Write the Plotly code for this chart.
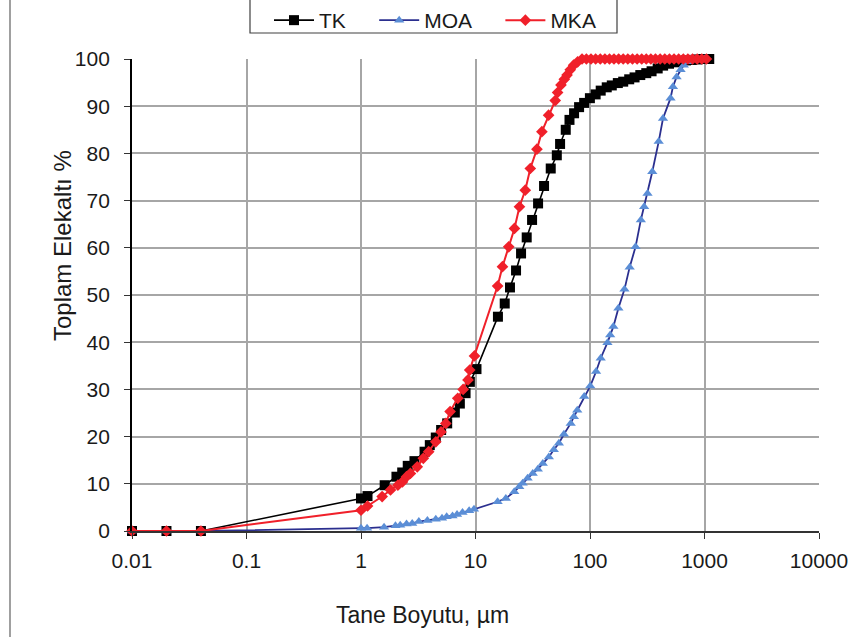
import plotly.graph_objects as go

# --- données ---
tk_x = [0.01, 0.02, 0.04, 1.0, 1.14, 1.61, 2.04, 2.29, 2.56, 2.93, 3.59, 3.99, 4.5, 5.01, 5.66,
        6.6, 7.3, 8.19, 8.93, 10.2, 15.7, 18.0, 20.0, 22.6, 25.0, 28.0, 31.2, 35.2, 39.7, 45.4,
        51.3, 54.8, 61.4, 66.2, 72.6, 80.3, 88.9, 99.8, 112, 124, 140, 155, 175, 195, 220, 245,
        275, 310, 345, 390, 435, 490, 550, 615, 690, 775, 870, 975, 1100]
tk_y = [0, 0, 0, 6.9, 7.4, 9.7, 11.5, 12.4, 13.8, 14.8, 16.8, 18.2, 19.8, 21.4, 22.8,
        25.1, 27.0, 29.2, 31.6, 34.3, 45.4, 48.2, 51.6, 55.2, 58.8, 62.2, 65.9, 69.4, 73.1, 76.8,
        79.6, 82.0, 85.0, 87.1, 88.5, 89.8, 90.7, 91.7, 92.5, 93.3, 94.0, 94.4, 94.9, 95.2, 95.7, 96.1,
        96.6, 97.0, 97.4, 98.0, 98.6, 99.0, 99.3, 99.5, 99.7, 99.8, 99.9, 100, 100]

moa_x = [0.01, 0.02, 0.04, 1.0, 1.13, 1.59, 2.0, 2.2, 2.5, 2.8, 3.2, 3.8, 4.5, 5.1, 5.6, 6.3,
         6.9, 7.7, 8.8, 9.7, 15.6, 18.4, 21.8, 24.1, 25.8, 28.5, 31.6, 35.0, 38.7, 43.7, 48.3,
         53.5, 59.2, 67.8, 72.3, 77.4, 89.0, 100.5, 113, 124, 142, 150, 160, 177, 200, 222, 250,
         278, 297, 318, 350, 398, 434, 505, 530, 570, 618, 660, 705, 760, 850, 1000]
moa_y = [0, 0, 0, 0.6, 0.6, 0.8, 1.1, 1.2, 1.5, 1.6, 2.0, 2.2, 2.5, 2.7, 3.0, 3.2,
         3.5, 3.9, 4.3, 4.6, 6.2, 6.9, 8.3, 9.4, 10.1, 11.2, 12.2, 13.1, 14.3, 15.7, 17.2,
         18.6, 20.5, 22.8, 24.2, 25.6, 28.5, 30.7, 33.8, 36.6, 39.9, 41.5, 43.3, 47.2, 51.2, 55.9, 60.2,
         65.9, 68.7, 71.5, 76.1, 82.5, 87.4, 91.7, 94.1, 96.2, 97.7, 98.7, 99.4, 100, 100, 100]

mka_x = [0.01, 0.02, 0.04, 1.0, 1.14, 1.53, 1.81, 2.1, 2.3, 2.5, 2.7, 3.1, 3.5, 3.9, 4.5, 5.0,
         5.5, 6.0, 7.0, 7.8, 8.6, 8.9, 9.8, 15.6, 17.2, 19.5, 21.9, 24.2, 27.2, 30.1, 34.4, 38.0,
         43.5, 49.7, 52.1, 55.8, 59.6, 63.0, 67.2, 71.9, 78.0, 85.2, 93, 102, 112, 123, 135, 148,
         162, 178, 195, 214, 235, 258, 283, 310, 340, 373, 410, 450, 494, 542, 595, 653, 716,
         786, 863, 947, 1040]
mka_y = [0, 0, 0, 4.4, 5.3, 7.3, 8.7, 9.7, 10.4, 11.5, 12.2, 13.6, 15.4, 16.8, 18.9, 21.0,
         22.8, 25.3, 28.1, 30.0, 32.0, 34.1, 37.1, 51.9, 56.0, 60.2, 64.1, 68.7, 72.2, 76.8, 80.9, 84.6,
         88.1, 91.2, 92.9, 94.5, 95.7, 96.6, 97.7, 98.7, 99.4, 100, 100, 100, 100, 100, 100, 100,
         100, 100, 100, 100, 100, 100, 100, 100, 100, 100, 100, 100, 100, 100, 100, 100, 100,
         100, 100, 100, 100]

x_ticks = [0.01, 0.1, 1, 10, 100, 1000, 10000]
x_ticktext = ["0.01", "0.1", "1", "10", "100", "1000", "10000"]

FONT = "Arial, Liberation Sans, sans-serif"
TXT = "#1a1a1a"
W, H = 852, 637
# zone de tracé en pixels (gauche, droite, haut, bas)
PL, PR, PT, PB = 132, 819, 59, 531
PAD = "\u00a0" * 4  # espace après chaque entrée de légende

def px_x(p): return p / W
def px_y(p): return (H - p) / H

fig = go.Figure()
fig.add_trace(go.Scatter(x=tk_x, y=tk_y, name="TK" + PAD, mode="lines+markers", cliponaxis=False,
                         line=dict(color="black", width=1.6),
                         marker=dict(symbol="square", size=10, color="black")))
fig.add_trace(go.Scatter(x=moa_x, y=moa_y, name="MOA" + PAD, mode="lines+markers", cliponaxis=False,
                         line=dict(color="#2B2F8F", width=1.8),
                         marker=dict(symbol="triangle-up", size=9, color="#5B8ED6")))
fig.add_trace(go.Scatter(x=mka_x, y=mka_y, name="MKA", mode="lines+markers", cliponaxis=False,
                         line=dict(color="#F0202A", width=2),
                         marker=dict(symbol="diamond", size=9, color="#F0202A")))

fig.update_xaxes(type="log", range=[-2, 4], tickvals=x_ticks, ticktext=x_ticktext,
                 domain=[px_x(PL), px_x(PR)], automargin=False,
                 showgrid=True, gridcolor="#A6A6A6", gridwidth=1.8,
                 showline=True, linecolor="#333333", linewidth=1.8,
                 ticks="outside", ticklen=6, tickcolor="#333333", ticklabelstandoff=4,
                 tickfont=dict(family=FONT, size=21, color=TXT), zeroline=False)
fig.update_yaxes(range=[0, 100], dtick=10,
                 domain=[px_y(PB), px_y(PT)], automargin=False,
                 showgrid=True, gridcolor="#A6A6A6", gridwidth=1.8,
                 showline=True, linecolor="black", linewidth=1.8,
                 ticks="outside", ticklen=6, tickcolor="#333333", ticklabelstandoff=10,
                 tickfont=dict(family=FONT, size=21, color=TXT), zeroline=False)

fig.update_layout(
    width=W, height=H, margin=dict(l=0, r=0, t=0, b=0),
    paper_bgcolor="white", plot_bgcolor="white",
    font=dict(family=FONT, size=21, color=TXT),
    showlegend=True,
    legend=dict(orientation="h", x=px_x(269), xanchor="left", y=1, yanchor="top",
                font=dict(family=FONT, size=21, color=TXT), bgcolor="rgba(0,0,0,0)",
                itemwidth=40, tracegroupgap=0),
    annotations=[
        dict(text="Tane Boyutu, µm", x=px_x(422), y=px_y(615), xref="paper", yref="paper",
             xanchor="center", yanchor="middle",
             showarrow=False, font=dict(family=FONT, size=23, color=TXT)),
        dict(text="Toplam Elekaltı %", x=px_x(63), y=px_y(246), xref="paper", yref="paper",
             xanchor="center", yanchor="middle",
             textangle=-90, showarrow=False, font=dict(family=FONT, size=24, color=TXT)),
    ],
    shapes=[
        # cadre de la légende (haut coupé)
        dict(type="rect", xref="paper", yref="paper", x0=px_x(250), x1=px_x(617),
             y0=px_y(33), y1=px_y(-10), line=dict(color="#404040", width=1.2)),
        # bord gauche du cadre du graphique
        dict(type="line", xref="paper", yref="paper", x0=px_x(10), x1=px_x(10),
             y0=px_y(-10), y1=px_y(H + 10), line=dict(color="#606060", width=1.2)),
    ],
)

fig.write_html("out.html", config={"displayModeBar": False},
               post_script="document.body.style.margin='0px';document.body.style.overflow='hidden';")
